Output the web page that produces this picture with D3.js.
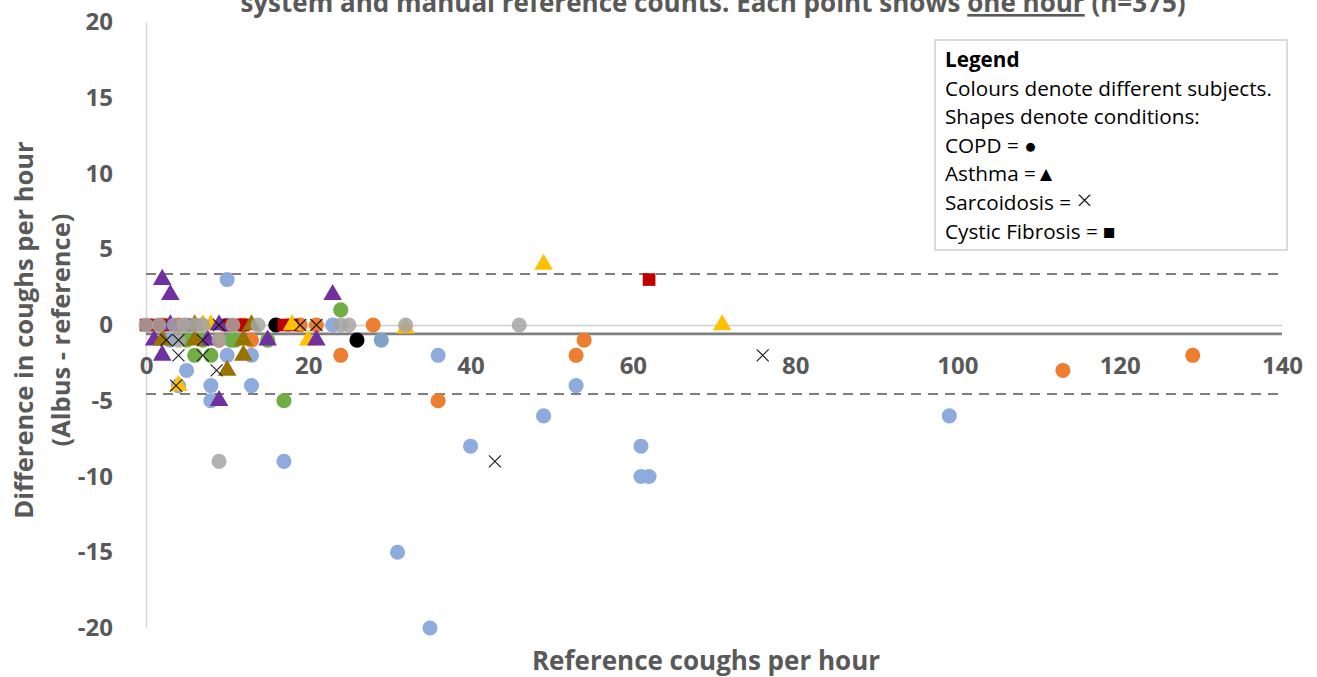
<!DOCTYPE html>
<html>
<head>
<meta charset="utf-8">
<script src="https://cdn.jsdelivr.net/npm/d3@7"></script>
<style>
  html, body { margin: 0; padding: 0; background: #ffffff; }
  svg { display: block; }
  text { font-family: "Open Sans", sans-serif; }
</style>
</head>
<body>
<svg id="chart" width="1317" height="677"></svg>
<script>
// ---------------- DATA ----------------
const xTicks = [0, 20, 40, 60, 80, 100, 120, 140];
const yTicks = [-20, -15, -10, -5, 0, 5, 10, 15, 20];
const meanDiff = -0.59;
const upperLoA = 3.37;
const lowerLoA = -4.55;

// each series: one subject ([reference, difference])
const lightBlue = [[10,3],[23,0],[3,-1],[10,-2],[13,-2],[5,-3],[4,-4],[8,-4],[13,-4],[8,-5],[17,-9],[31,-15],[35,-20],[36,-2],[40,-8],[49,-6],[53,-4],[61,-8],[61,-10],[62,-10],[99,-6],[5,0],[10,0]];
const steelBlue = [[29,-1]];
const orange = [[19,0],[21,0],[28,0],[24,-2],[36,-5],[53,-2],[54,-1],[113,-3],[129,-2],[13,-1],[12,0],[9,-1],[2,0],[4,0]];
const green = [[24,1],[17,-5],[6,-2],[8,-2],[10.5,-1],[5,-1],[15,-1],[7,-1],[11,-1]];
const black = [[16,0],[26,-1]];
const red = [[0,0],[1,0],[2,0],[3,0],[6,0],[10,0],[11,0],[12,0],[17,0],[18,0],[62,3]];
const yellow = [[49,4],[71,0],[32,-0.2],[8,0],[18,0],[20,-1],[4,-4],[7,0]];
const purple = [[2,3],[3,2],[23,2],[1,-1],[2,-2],[9,-5],[7.6,-1],[15,-1],[21,-1],[9,0],[3,0]];
const brown = [[2,-1],[6,-1],[12,-1],[12,-2],[10,-3],[13,0],[6,0]];
const gray = [[0,0],[1.6,0],[3.5,0],[4.7,0],[6,0],[7,0],[10.7,0],[13.8,0],[24,0],[25,0],[32,0],[46,0],[9,-9],[4,-1],[9,-1]];
const crosses = [[76,-2],[43,-9],[4,-1],[4,-2],[7,-1],[7,-2],[8.7,-3],[3.7,-4],[19,0],[21,0],[9,0],[2.5,-1]];

const legendText = [
  "Colours denote different subjects.",
  "Shapes denote conditions:",
  "COPD = ",
  "Asthma =",
  "Sarcoidosis = ",
  "Cystic Fibrosis = "
];
const legendGlyphs = ["", "", "\u25CF", "\u25B2", "\u00D7", "\u25A0"];
const legendGlyphSize = [20.7, 20.7, 20.7, 20.7, 28, 20.7];

// ---------------- CHART ----------------
const svg = d3.select("#chart");
const x = d3.scaleLinear().domain([0, 140]).range([146, 1282]);
const y = d3.scaleLinear().domain([-20, 20]).range([628, 22]);
const axisColor = "#595959";
const fmt = d => String(d);

// y axis
const yAxis = svg.append("g").attr("transform", `translate(${x(0)},0)`)
  .call(d3.axisLeft(y).tickValues(yTicks).tickFormat(fmt).tickSize(0).tickPadding(33));
yAxis.select(".domain").attr("stroke", "#d9d9d9").attr("stroke-width", 1.5);
yAxis.selectAll("text").attr("font-size", 24).attr("font-weight", "bold")
  .attr("fill", axisColor).attr("font-family", "'Open Sans', sans-serif");

// x axis at zero
const xAxis = svg.append("g").attr("transform", `translate(0,${y(0)})`)
  .call(d3.axisBottom(x).tickValues(xTicks).tickFormat(fmt).tickSize(0).tickPadding(32));
xAxis.select(".domain").attr("stroke", "#d0d0d0").attr("stroke-width", 1.5);
xAxis.selectAll("text").attr("font-size", 24).attr("font-weight", "bold")
  .attr("fill", axisColor).attr("font-family", "'Open Sans', sans-serif");

// mean and limits of agreement
svg.append("line").attr("x1", x(0)).attr("x2", x(140))
  .attr("y1", y(meanDiff)).attr("y2", y(meanDiff))
  .attr("stroke", "#7f7f7f").attr("stroke-width", 2.75);
[upperLoA, lowerLoA].forEach(v => {
  svg.append("line").attr("x1", x(0)).attr("x2", x(140))
    .attr("y1", y(v)).attr("y2", y(v))
    .attr("stroke", "#7f7f7f").attr("stroke-width", 2)
    .attr("stroke-dasharray", "10,7");
});

// points
const circleSym = d3.symbol().type(d3.symbolCircle).size(180);
const triSym = d3.symbol().type(d3.symbolTriangle).size(150);
const sqSym = d3.symbol().type(d3.symbolSquare).size(160);

function drawSeries(data, sym, color, opacity) {
  svg.append("g").selectAll("path").data(data).join("path")
    .attr("d", sym)
    .attr("transform", d => `translate(${x(d[0])},${y(d[1])})`)
    .attr("fill", color)
    .attr("fill-opacity", opacity || 1);
}
drawSeries(lightBlue, circleSym, "#8faadc");
drawSeries(steelBlue, circleSym, "#7fa3c6");
drawSeries(orange, circleSym, "#ed7d31");
drawSeries(green, circleSym, "#70ad47");
drawSeries(black, circleSym, "#000000");
drawSeries(red, sqSym, "#c00000");
drawSeries(yellow, triSym, "#ffc000");
drawSeries(purple, triSym, "#7030a0");
drawSeries(brown, triSym, "#997300");
drawSeries(gray, circleSym, "#a5a5a5", 0.85);

svg.append("g").selectAll("path").data(crosses).join("path")
  .attr("d", "M-6,-6L6,6M-6,6L6,-6")
  .attr("transform", d => `translate(${x(d[0])},${y(d[1])})`)
  .attr("stroke", "#1a1a1a").attr("stroke-width", 1.1).attr("fill", "none");

// title (clipped at the top, as in the source figure)
const title = svg.append("text").attr("x", 713).attr("y", 12)
  .attr("text-anchor", "middle").attr("font-size", 26).attr("font-weight", "bold")
  .attr("fill", axisColor);
title.append("tspan").text("system and manual reference counts. Each point shows ");
title.append("tspan").attr("text-decoration", "underline").text("one hour");
title.append("tspan").text(" (n=375)");

// axis titles
svg.append("text").attr("x", 706).attr("y", 670).attr("text-anchor", "middle")
  .attr("font-size", 26).attr("font-weight", "bold").attr("fill", axisColor)
  .text("Reference coughs per hour");
const yt = svg.append("text").attr("transform", "translate(0,330) rotate(-90)")
  .attr("text-anchor", "middle").attr("font-size", 25.5).attr("font-weight", "bold")
  .attr("fill", axisColor);
yt.append("tspan").attr("x", 0).attr("y", 33).text("Difference in coughs per hour");
yt.append("tspan").attr("x", 0).attr("y", 70).text("(Albus - reference)");

// legend box
const lg = svg.append("g");
lg.append("rect").attr("x", 935).attr("y", 40).attr("width", 352).attr("height", 210)
  .attr("fill", "#ffffff").attr("stroke", "#d0d0d0").attr("stroke-width", 1.5);
lg.append("text").attr("x", 945).attr("y", 67).attr("font-size", 20.7)
  .attr("font-family", "Lato, sans-serif")
  .attr("font-weight", "bold").attr("fill", "#000").text("Legend");
const lines = lg.selectAll("text.l").data(legendText).join("text").attr("class", "l")
  .attr("x", 945).attr("y", (d, i) => 95.5 + i * 28.6)
  .attr("font-family", "Lato, sans-serif")
  .attr("font-size", 20.7).attr("fill", "#000");
lines.append("tspan").text(d => d);
lines.append("tspan").attr("font-size", (d, i) => legendGlyphSize[i])
  .attr("font-weight", 300)
  .text((d, i) => legendGlyphs[i]);
</script>
</body>
</html>
